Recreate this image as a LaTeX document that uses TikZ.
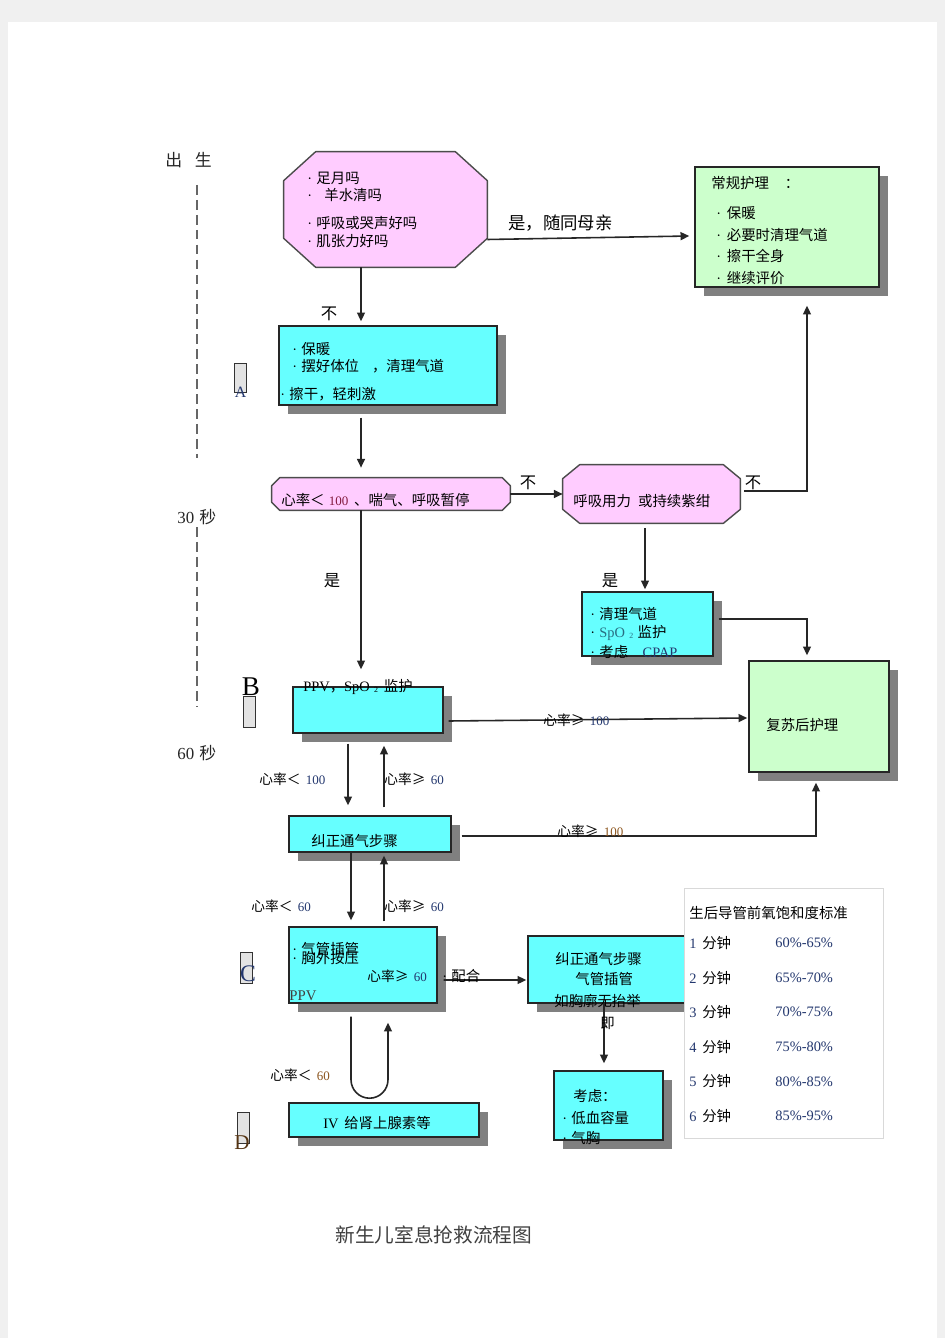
\documentclass[tikz,border=0pt]{standalone}
\usepackage{fontspec}
\setmainfont{Liberation Serif}
\newfontfamily\cjk{Noto Sans CJK SC}
\usetikzlibrary{positioning}
\usetikzlibrary{calc,shadows,arrows.meta}

\definecolor{octpink}{HTML}{FFCCFF}
\definecolor{boxcyan}{HTML}{66FFFF}
\definecolor{boxgreen}{HTML}{CCFFCC}
\definecolor{shadegray}{HTML}{808080}
\definecolor{taggray}{HTML}{E3E3E3}
\definecolor{pagegray}{HTML}{F0F0F0}
\definecolor{numblue}{RGB}{35,55,110}
\definecolor{numred}{RGB}{130,25,60}
\definecolor{numbrown}{RGB}{140,85,30}
\definecolor{spoteal}{RGB}{40,110,130}

\newcommand{\nmb}[2][numblue]{{\rmfamily\fontsize{7.4}{8}\selectfont\color{#1}#2}}
\newcommand{\spo}{SpO\hspace{.3em}\raisebox{-.2ex}{\fontsize{4.5}{5}\selectfont 2}}
\newcommand{\bul}{{\rmfamily·}\hspace{.3em}}
% octagon round a named node: node, chamfer x, chamfer y
\newcommand{\octagon}[3]{%
	\filldraw[octline] ($(#1.north west)+(#2,0)$) -- ($(#1.north east)+(-#2,0)$)
		-- ($(#1.north east)+(0,#3)$) -- ($(#1.south east)+(0,-#3)$)
		-- ($(#1.south east)+(-#2,0)$) -- ($(#1.south west)+(#2,0)$)
		-- ($(#1.south west)+(0,-#3)$) -- ($(#1.north west)+(0,#3)$) -- cycle;}

\tikzset{
  octa/.style={rectangle, inner sep=0pt},
  octline/.style={draw=black!70, line width=0.8pt, fill=octpink, line join=round},
  flowbox/.style={rectangle, draw=black!85, line width=0.8pt, inner sep=0pt,
    drop shadow={shadow xshift=0.18cm, shadow yshift=-0.18cm, fill=shadegray, opacity=1}},
  cyanbox/.style={flowbox, fill=boxcyan},
  greenbox/.style={flowbox, fill=boxgreen},
  tagbox/.style={rectangle, draw=black!80, line width=0.5pt, fill=taggray, minimum width=0.24cm, inner sep=0pt},
  txt/.style={font=\cjk\fontsize{8.2}{10}\selectfont, inner sep=0pt, anchor=west},
  hrlbl/.style={font=\cjk\fontsize{7.8}{9}\selectfont, inner sep=0pt, anchor=west},
  yesno/.style={font=\cjk\fontsize{9.3}{11}\selectfont, inner sep=0pt},
  timelbl/.style={font=\cjk\fontsize{9.6}{11}\selectfont, inner sep=0pt, anchor=west, text=black!85},
  letter/.style={inner sep=0pt},
  flow/.style={draw=black!85, line width=0.9pt, -{Triangle[length=5pt,width=4.5pt]}},
  timeline/.style={draw=black!60, line width=0.9pt, dash pattern=on 5.5pt off 3pt},
}

\begin{document}
\begin{tikzpicture}[x=0.02cm, y=-0.02cm]
	
	% ------------------------------------------------
	% Page
	\useasboundingbox (0,0) rectangle (945,1338);
	\fill[pagegray] (0,0) rectangle (945,1338);
	\fill[white] (8,22) rectangle (937,1338);
	
	% ------------------------------------------------
	% Time line
	\node[timelbl] (born)  at (165,160) {出\hspace{.75em}生};
	\node[timelbl] (sec30) at (177,517) {{\rmfamily 30}\hspace{.3em}秒};
	\node[timelbl] (sec60) at (177,753) {{\rmfamily 60}\hspace{.3em}秒};
	\draw[timeline] (197,185) -- (197,458);
	\draw[timeline] (197,527) -- (197,707);
	
	% ------------------------------------------------
	% Shapes
	\node[octa, minimum width=4.06cm, minimum height=2.30cm] (assess) at (385.5,209.5) {};
	\octagon{assess}{32}{29}
	\node[greenbox, minimum width=3.68cm, minimum height=2.40cm] (routine) at (787,227) {};
	\node[cyanbox, minimum width=4.36cm, minimum height=1.58cm] (stepA) at (388,365.5) {};
	\node[octa, minimum width=4.76cm, minimum height=0.64cm] (hrcheck) at (391,494) {};
	\octagon{hrcheck}{8}{8}
	\node[octa, minimum width=3.54cm, minimum height=1.16cm] (labored) at (651.5,494) {};
	\octagon{labored}{17}{14}
	\node[cyanbox, minimum width=2.62cm, minimum height=1.28cm] (airway) at (647.5,624) {};
	\node[cyanbox, minimum width=3.00cm, minimum height=0.92cm] (ppv) at (368,710) {};
	\node[greenbox, minimum width=2.80cm, minimum height=2.22cm] (postcare) at (819,716.5) {};
	\node[cyanbox, minimum width=3.24cm, minimum height=0.72cm] (correct) at (370,834) {};
	\node[cyanbox, minimum width=2.96cm, minimum height=1.52cm] (stepC) at (363,965) {};
	\node[cyanbox, minimum width=3.24cm, minimum height=1.34cm] (intubate) at (609,969.5) {};
	\node[cyanbox, minimum width=2.18cm, minimum height=1.38cm] (consider) at (608.5,1105.5) {};
	\node[cyanbox, minimum width=3.80cm, minimum height=0.68cm] (epi) at (384,1120) {};
	\node[draw=black!15, line width=0.5pt, fill=white, minimum width=3.98cm, minimum height=5.00cm, inner sep=0pt] (spotable) at (783.5,1013) {};
	
	% ----------------
	% Step tags
	\node[tagbox, minimum height=0.58cm] (tagA) at (240.5,377.5) {};
	\node[tagbox, minimum height=0.62cm] (tagB) at (249,711.5) {};
	\node[tagbox, minimum height=0.62cm] (tagC) at (246,967.5) {};
	\node[tagbox, minimum height=0.62cm] (tagD) at (243.5,1127.5) {};
	\node[letter, font=\rmfamily\fontsize{9}{9}\selectfont, text=numblue] (letA) at (240.5,392) {A};
	\node[letter, font=\rmfamily\fontsize{15.4}{16}\selectfont] (letB) at (251,687) {B};
	\node[letter, font=\rmfamily\fontsize{13.5}{14}\selectfont, text=numblue] (letC) at (248,974) {C};
	\node[letter, font=\rmfamily\fontsize{12}{13}\selectfont, text=numbrown!60!black] (letD) at (242,1143) {D};
	
	% ------------------------------------------------
	% Relevant coordinates
	\coordinate (spine) at (361,0);
	\coordinate (laneL) at (348,0);
	\coordinate (laneR) at (384,0);
	\coordinate (laneC) at (351,0);
	\coordinate (laneU) at (388,0);
	\coordinate (laneT) at (604,0);
	\coordinate (riseR) at (807,491);
	\coordinate (riseM) at (807,619);
	\coordinate (riseL) at (816,836);
	
	% ------------------------------------------------
	% Connectors
	\draw[flow] ($(assess.east)+(0,30)$) -- ($(routine.west)+(-5,9)$);
	\draw[flow] (assess.south -| spine) -- ($(stepA.north -| spine)+(0,-4)$);
	\draw[flow] ($(stepA.south -| spine)+(0,12)$) -- ($(hrcheck.north -| spine)+(0,-10)$);
	\draw[flow] (hrcheck.east) -- (labored.west);
	\draw[flow] ($(labored.east)+(4,-3)$) -- (riseR) -- ($(routine.south -| riseR)+(0,18)$);
	\draw[flow] ($(labored.south -| laneT)+(41,5)$) -- ($(airway.north -| laneT)+(41,-2)$);
	\draw[flow] ($(airway.east)+(5,-5)$) -- (riseM) -- ($(postcare.north -| riseM)+(0,-5)$);
	\draw[flow] (hrcheck.south -| spine) -- ($(ppv.north -| spine)+(0,-17)$);
	\draw[flow] ($(ppv.east)+(5,11)$) -- ($(postcare.west)+(-1,1.5)$);
	\draw[flow] ($(ppv.south -| laneL)+(0,10)$) -- ($(correct.north -| laneL)+(0,-10)$);
	\draw[flow] ($(correct.north -| laneR)+(0,-8)$) -- ($(ppv.south -| laneR)+(0,12)$);
	\draw[flow] ($(correct.east)+(10,2)$) -- (riseL) -- ($(postcare.south -| riseL)+(0,10)$);
	\draw[flow] (correct.south -| laneC) -- ($(stepC.north -| laneC)+(0,-6)$);
	\draw[flow] ($(stepC.north -| laneR)+(0,-5)$) -- ($(correct.south -| laneR)+(0,3)$);
	\draw[flow] ($(stepC.east)+(6,15)$) -- ($(intubate.west)+(-1,10.5)$);
	\draw[flow] (intubate.south -| laneT) -- ($(consider.north -| laneT)+(0,-7)$);
	\draw[flow] ($(stepC.south -| laneC)+(0,13)$) -- ++(0,63) arc[start angle=180, end angle=0, radius=18.5] -- ($(stepC.south -| laneU)+(0,19)$);
	
	% ------------------------------------------------
	% Labels on connectors
	\node[yesno, anchor=west, font=\cjk\fontsize{9.9}{11}\selectfont] (yesmom) at (508,223) {是，随同母亲};
	\node[yesno] (noA)   at (329,314) {不};
	\node[yesno] (noB)   at (528,483) {不};
	\node[yesno] (noC)   at (753,483) {不};
	\node[yesno] (yesB)  at (610,581) {是};
	\node[yesno] (yesA)  at (332,581) {是};
	\node[hrlbl] (hrPpv)  at (543,720) {心率≥\hspace{.4em}\nmb{100}};
	\node[hrlbl] (hrDn1)  at (259,779) {心率＜\hspace{.4em}\nmb{100}};
	\node[hrlbl] (hrUp1)  at (384,779) {心率≥\hspace{.4em}\nmb{60}};
	\node[hrlbl] (hrCor)  at (557,831) {心率≥\hspace{.4em}\nmb[numbrown]{100}};
	\node[hrlbl] (hrDn2)  at (251,906) {心率＜\hspace{.4em}\nmb{60}};
	\node[hrlbl] (hrUp2)  at (384,906) {心率≥\hspace{.4em}\nmb{60}};
	\node[hrlbl] (hrLoop) at (270,1075) {心率＜\hspace{.4em}\nmb[numbrown]{60}};
	
	% ------------------------------------------------
	% Texts in the shapes
	\node[txt] (qa1) at (307,178) {\bul 足月吗};
	\node[txt] (qa2) at (307,195) {\bul\hspace{.55em}羊水清吗};
	\node[txt] (qa3) at (307,223) {\bul 呼吸或哭声好吗};
	\node[txt] (qa4) at (307,241) {\bul 肌张力好吗};
	
	\node[txt] (rt0) at (711,183) {常规护理\hspace{1.1em}：};
	\node[txt] (rt1) at (716,213) {\bul\hspace{.1em}保暖};
	\node[txt] (rt2) at (716,235) {\bul\hspace{.1em}必要时清理气道};
	\node[txt] (rt3) at (716,256) {\bul\hspace{.1em}擦干全身};
	\node[txt] (rt4) at (716,278) {\bul\hspace{.1em}继续评价};
	
	\node[txt] (sa1) at (292,349) {\bul 保暖};
	\node[txt] (sa2) at (292,366) {\bul 摆好体位\hspace{.9em}，清理气道};
	\node[txt] (sa3) at (280,394) {\bul 擦干，轻刺激};
	
	\node[txt] (hr0) at (281,500) {心率＜\hspace{.3em}\nmb[numred]{100}\hspace{.4em}、喘气、呼吸暂停};
	\node[txt] (lb0) at (573,501) {呼吸用力\hspace{.5em}或持续紫绀};
	
	\node[txt] (aw1) at (590,614) {\bul 清理气道};
	\node[txt] (aw2) at (590,633) {\bul{\rmfamily\color{spoteal}\spo}\hspace{.3em}监护};
	\node[txt] (aw3) at (590,652) {\bul 考虑\hspace{1em}{\rmfamily\color{numblue}CPAP}};
	
	\node[txt] (pv0) at (303,687) {{\rmfamily PPV}，{\rmfamily\spo}\hspace{.4em}监护};
	\node[txt] (pc0) at (766,725) {复苏后护理};
	\node[txt] (cr0) at (311,841) {纠正通气步骤};
	
	\node[txt] (sc1) at (292,949) {\bul 气管插管};
	\node[txt] (sc2) at (292,958) {\bul 胸外按压};
	\node[hrlbl] (sc3) at (367,976) {心率≥\hspace{.4em}\nmb{60}};
	\node[txt, font=\rmfamily\fontsize{8.4}{10}\selectfont, text=black!75] (sc4) at (289,996) {PPV};
	\node[txt] (coop) at (442,976) {\bul 配合};
	
	\node[txt] (tb1) at (555,959) {纠正通气步骤};
	\node[txt] (tb2) at (575,979) {气管插管};
	\node[txt] (tb3) at (554,1001) {如胸廓无抬举};
	\node[txt] (tb4) at (600,1023) {即};
	
	\node[txt] (cd1) at (573,1096) {考虑：};
	\node[txt] (cd2) at (562,1118) {\bul 低血容量};
	\node[txt] (cd3) at (562,1138) {\bul 气胸};
	
	\node[txt] (ep0) at (323,1123) {{\rmfamily IV}\hspace{.4em}给肾上腺素等};
	
	% ----------------
	% SpO2 table
	\node[txt] (tabhead) at (689,913) {生后导管前氧饱和度标准};
	\foreach \m/\v [count=\i] in {1/60\%-65\%, 2/65\%-70\%, 3/70\%-75\%, 4/75\%-80\%, 5/80\%-85\%, 6/85\%-95\%}{
		\node[txt] (minute\i) at (689,{943+34.6*(\i-1)}) {{\rmfamily\color{numblue}\m}\hspace{.4em}分钟};
		\node[txt, font=\rmfamily\fontsize{8.2}{10}\selectfont, text=numblue] (range\i) at (775,{943+34.6*(\i-1)}) {\v};
	}
	
	% ------------------------------------------------
	% Caption
	\node[txt, font=\cjk\fontsize{11.2}{13}\selectfont, text=black!75] (caption) at (335,1235) {新生儿室息抢救流程图};
	
\end{tikzpicture}
\end{document}
